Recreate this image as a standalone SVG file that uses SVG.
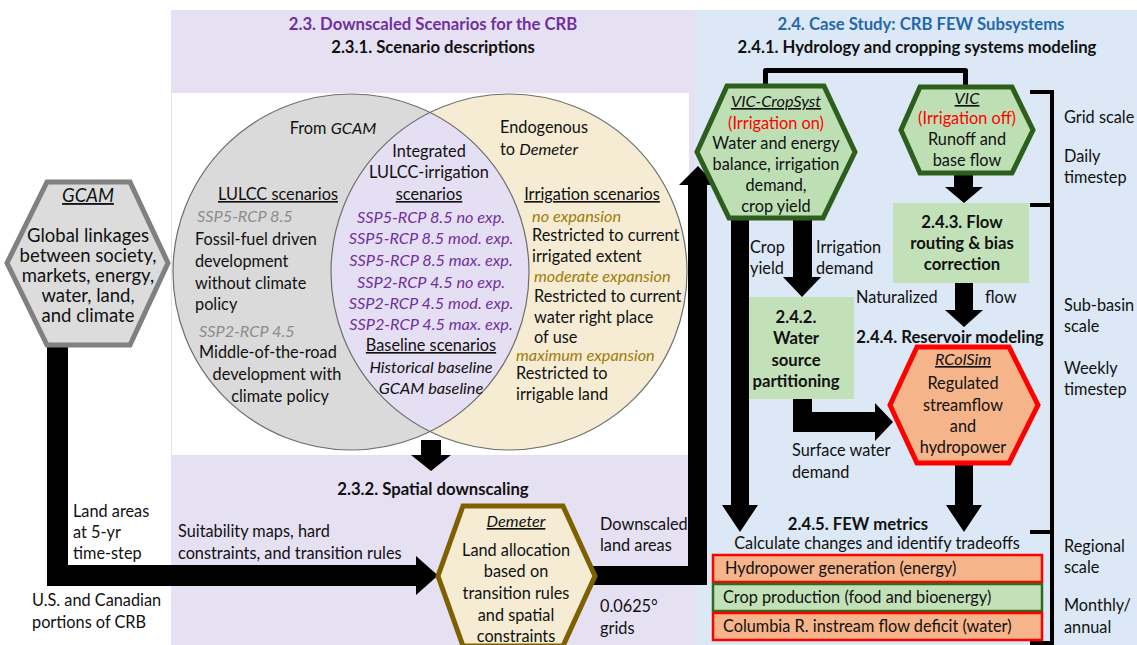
<svg xmlns="http://www.w3.org/2000/svg" width="1137" height="645" viewBox="0 0 1137 645">
<style>
text{font-family:Lato,"Liberation Sans",sans-serif;font-size:16.3px;fill:#111}
.b{font-weight:bold;font-size:16.7px}
.m{text-anchor:middle}
.i{font-style:italic}
.u{text-decoration:underline}
.pur{fill:#7030A0}
.gry{fill:#8C8C8C}
.brn{fill:#A27A0C}
.red{fill:#FF0000}
.g19{font-size:18.5px}
.arrow{fill:#000}
</style>
<rect x="0" y="0" width="1137" height="645" fill="#fff"/>
<rect x="171" y="10" width="524" height="635" fill="#E6E0F3"/>
<rect x="695" y="10" width="442" height="635" fill="#DCE8F5"/>
<rect x="172" y="93" width="517" height="362" fill="#fff"/>

<g id="titles">
<text class="b m pur" x="433" y="30">2.3. Downscaled Scenarios for the CRB</text>
<text class="b m" x="433" y="53">2.3.1. Scenario descriptions</text>
<text class="b m" x="921" y="30" style="fill:#2468AE">2.4. Case Study: CRB FEW Subsystems</text>
<text class="b m" x="917" y="53">2.4.1. Hydrology and cropping systems modeling</text>
<text class="b m" x="433" y="495">2.3.2. Spatial downscaling</text>
</g>

<g id="connectors">
<path class="arrow" d="M47,345 H68 V565 H416 V556 L438,575.5 L416,595 V586 H47 Z"/>
<path class="arrow" d="M590,566 H688 V185 H679 L698,166 L716,185 H707 V585 H590 Z"/>
<path class="arrow" d="M421,440 H441 V455 H451 L431,471 L411,455 H421 Z"/>
<path class="arrow" d="M731,216 H749 V505 H758 L740,532 L722,505 H731 Z"/>
<path class="arrow" d="M793,216 H812 V277 H821 L802,297 L783,277 H793 Z"/>
<path class="arrow" d="M954,172 H973 V187 H983 L964,203 L945,187 H954 Z"/>
<path class="arrow" d="M955,283 H973 V310 H983 L964,327 L945,310 H955 Z"/>
<path class="arrow" d="M955,462 H973 V505 H982 L964,532 L946,505 H955 Z"/>
<path class="arrow" d="M793,399 H812 V412 H875 V403 L893,422 L875,441 V432 H793 Z"/>
<path d="M765.5,88 V70.5 H965.5 V89" fill="none" stroke="#000" stroke-width="5" stroke-linejoin="round"/>
<path d="M1030,92 H1052 V643 H1030 M1030,205 H1052 M1030,532 H1052" fill="none" stroke="#000" stroke-width="4"/>
</g>

<g id="gcam">
<polygon points="47,182 130,182 168,263 130,345 47,345 7,263" fill="#DCDCDC" stroke="#808080" stroke-width="5"/>
<text class="m i u g19" x="88" y="202">GCAM</text>
<text class="m g19" x="88" y="242">Global linkages</text>
<text class="m g19" x="88" y="262">between society,</text>
<text class="m g19" x="88" y="282">markets, energy,</text>
<text class="m g19" x="88" y="302">water, land,</text>
<text class="m g19" x="88" y="322">and climate</text>
</g>

<g id="gcam-labels">
<text x="73" y="517">Land areas</text>
<text x="73" y="538">at 5-yr</text>
<text x="73" y="559">time-step</text>
<text x="32" y="606">U.S. and Canadian</text>
<text x="32" y="628">portions of CRB</text>
</g>

<g id="scenario-venn">
<circle cx="351" cy="272" r="178" fill="#DADADA"/>
<circle cx="509" cy="272" r="178" fill="#F5ECD3"/>
<path d="M430,112.5 A178,178 0 0 0 430,431.5 A178,178 0 0 0 430,112.5 Z" fill="#E5DFF3"/>
<circle cx="351" cy="272" r="178" fill="none" stroke="#6E6E6E" stroke-width="1.2"/>
<circle cx="509" cy="272" r="178" fill="none" stroke="#6E6E6E" stroke-width="1.2"/>
<text class="m" x="333" y="134">From <tspan class="i">GCAM</tspan></text>
<text x="500" y="133">Endogenous</text>
<text x="500" y="155">to <tspan class="i">Demeter</tspan></text>
<text class="m" x="429" y="157">Integrated</text>
<text class="m" x="429" y="178">LULCC-irrigation</text>
<text class="m u" x="429" y="200">scenarios</text>
<text class="m u" x="278" y="200">LULCC scenarios</text>
<text class="i gry" x="197" y="222">SSP5-RCP 8.5</text>
<text x="195" y="245">Fossil-fuel driven</text>
<text x="195" y="267">development</text>
<text x="195" y="289">without climate</text>
<text x="195" y="310">policy</text>
<text class="i gry" x="199" y="337">SSP2-RCP 4.5</text>
<text x="199" y="358">Middle-of-the-road</text>
<text class="m" x="277" y="380">development with</text>
<text class="m" x="280" y="402">climate policy</text>
<text class="m i pur" x="431" y="223">SSP5-RCP 8.5 no exp.</text>
<text class="m i pur" x="431" y="244">SSP5-RCP 8.5 mod. exp.</text>
<text class="m i pur" x="431" y="266">SSP5-RCP 8.5 max. exp.</text>
<text class="m i pur" x="431" y="288">SSP2-RCP 4.5 no exp.</text>
<text class="m i pur" x="431" y="309">SSP2-RCP 4.5 mod. exp.</text>
<text class="m i pur" x="431" y="330">SSP2-RCP 4.5 max. exp.</text>
<text class="m u" x="431" y="351">Baseline scenarios</text>
<text class="m i" x="431" y="373">Historical baseline</text>
<text class="m i" x="431" y="394">GCAM baseline</text>
<text class="m u" x="592" y="200">Irrigation scenarios</text>
<text class="i brn" x="532" y="222">no expansion</text>
<text x="532" y="241">Restricted to current</text>
<text x="532" y="262">irrigated extent</text>
<text class="i brn" x="534" y="282">moderate expansion</text>
<text x="534" y="302">Restricted to current</text>
<text x="534" y="323">water right place</text>
<text x="534" y="343">of use</text>
<text class="i brn" x="516" y="361">maximum expansion</text>
<text x="516" y="379">Restricted to</text>
<text x="516" y="400">irrigable land</text>
</g>

<g id="demeter">
<polygon points="463,506 563,506 595,576 563,646 463,646 438,576" fill="#F5ECD3" stroke="#7F6000" stroke-width="5"/>
<text class="m i u" x="516" y="527">Demeter</text>
<text class="m" x="516" y="556">Land allocation</text>
<text class="m" x="516" y="577">based on</text>
<text class="m" x="516" y="599">transition rules</text>
<text class="m" x="516" y="621">and spatial</text>
<text class="m" x="516" y="642">constraints</text>
</g>

<g id="demeter-labels">
<text x="178" y="537">Suitability maps, hard</text>
<text x="178" y="559">constraints, and transition rules</text>
<text x="600" y="530">Downscaled</text>
<text x="600" y="551">land areas</text>
<text x="600" y="612">0.0625°</text>
<text x="600" y="634">grids</text>
</g>

<g id="vic-cropsyst">
<polygon points="727,86 824,86 855,152 823,218 729,218 697,152" fill="#BEDFB4" stroke="#2E5E1E" stroke-width="5"/>
<text class="m i u" x="776" y="107">VIC-CropSyst</text>
<text class="m red" x="776" y="129">(Irrigation on)</text>
<text class="m" x="776" y="149">Water and energy</text>
<text class="m" x="776" y="170">balance, irrigation</text>
<text class="m" x="776" y="191">demand,</text>
<text class="m" x="776" y="212">crop yield</text>
</g>

<g id="vic">
<polygon points="920,87 1012,87 1033,130 1012,173 920,173 901,130" fill="#BEDFB4" stroke="#2E5E1E" stroke-width="5"/>
<text class="m i u" x="967" y="104">VIC</text>
<text class="m red" x="967" y="124">(Irrigation off)</text>
<text class="m" x="967" y="145">Runoff and</text>
<text class="m" x="967" y="166">base flow</text>
</g>

<g id="flow-routing">
<rect x="893" y="203" width="136" height="80" fill="#C3E1B8"/>
<text class="b m" x="962" y="228">2.4.3. Flow</text>
<text class="b m" x="962" y="249">routing &amp; bias</text>
<text class="b m" x="962" y="270">correction</text>
</g>

<g id="water-source">
<rect x="749" y="297" width="105" height="102" fill="#C3E1B8"/>
<text class="b m" x="796" y="323">2.4.2.</text>
<text class="b m" x="796" y="344">Water</text>
<text class="b m" x="796" y="366">source</text>
<text class="b m" x="796" y="387">partitioning</text>
</g>

<g id="flow-labels">
<text x="750" y="253">Crop</text>
<text x="750" y="274">yield</text>
<text x="816" y="253">Irrigation</text>
<text x="816" y="274">demand</text>
<text x="856" y="303">Naturalized</text>
<text x="985" y="303">flow</text>
<text x="792" y="456">Surface water</text>
<text x="792" y="478">demand</text>
</g>

<g id="rcolsim">
<text class="b m" x="950" y="343">2.4.4. Reservoir modeling</text>
<polygon points="917,347 1009,347 1038,405 1009,463 917,463 890,405" fill="#F6B48A" stroke="#FF0000" stroke-width="5"/>
<text class="m i u" x="963" y="365">RColSim</text>
<text class="m" x="963" y="389">Regulated</text>
<text class="m" x="963" y="411">streamflow</text>
<text class="m" x="963" y="432">and</text>
<text class="m" x="963" y="453">hydropower</text>
</g>

<g id="few-metrics">
<text class="b m" x="858" y="530">2.4.5. FEW metrics</text>
<text class="m" x="877" y="549">Calculate changes and identify tradeoffs</text>
<rect x="713" y="555" width="329" height="27" fill="#F6B48A" stroke="#FF0000" stroke-width="2.5"/>
<text x="725" y="574">Hydropower generation (energy)</text>
<rect x="713" y="584" width="329" height="27" fill="#C3E1B8" stroke="#2E6B1E" stroke-width="2.5"/>
<text x="723" y="603">Crop production (food and bioenergy)</text>
<rect x="713" y="613" width="329" height="27" fill="#F6B48A" stroke="#FF0000" stroke-width="2.5"/>
<text x="723" y="632">Columbia R. instream flow deficit (water)</text>
</g>

<g id="scale-labels">
<text x="1064" y="123">Grid scale</text>
<text x="1064" y="162">Daily</text>
<text x="1064" y="183">timestep</text>
<text x="1064" y="311">Sub-basin</text>
<text x="1064" y="332">scale</text>
<text x="1064" y="374">Weekly</text>
<text x="1064" y="395">timestep</text>
<text x="1064" y="552">Regional</text>
<text x="1064" y="573">scale</text>
<text x="1064" y="611">Monthly/</text>
<text x="1064" y="633">annual</text>
</g>
</svg>
